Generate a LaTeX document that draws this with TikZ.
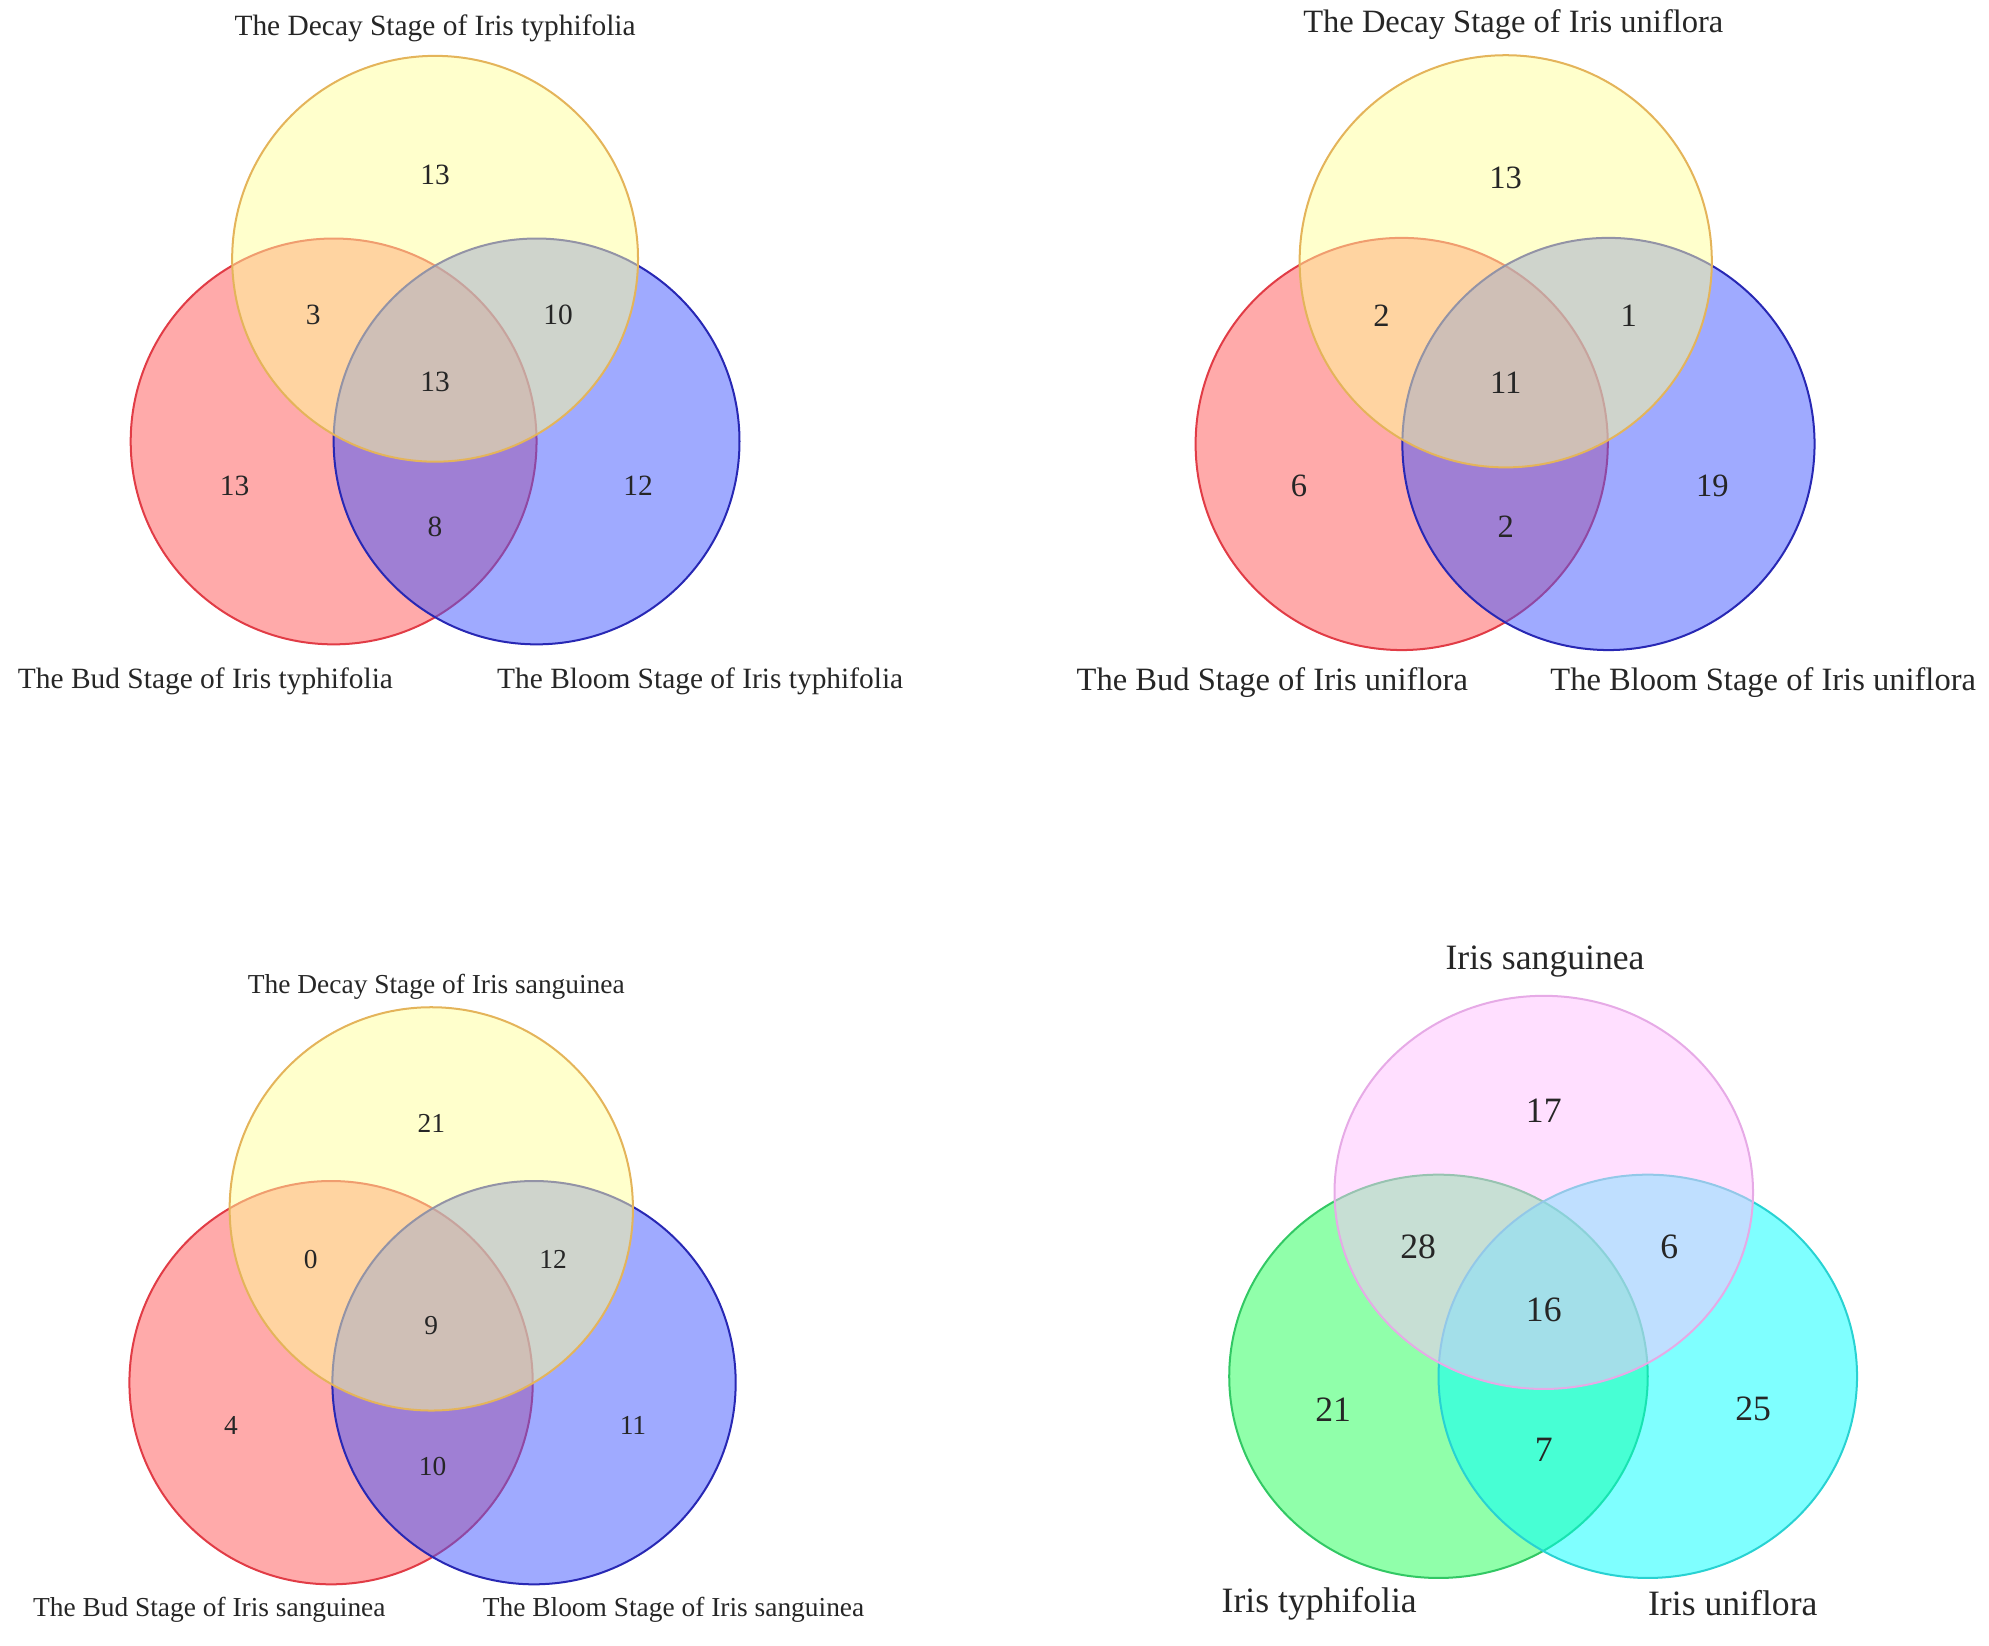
\documentclass[tikz,border=0pt]{standalone}
\usepackage{fontspec}
\setmainfont{Liberation Serif}
\usetikzlibrary{positioning}

\definecolor{budred}{RGB}{255,85,85}
\definecolor{budline}{RGB}{225,60,70}
\definecolor{bloomblue}{RGB}{64,85,255}
\definecolor{bloomline}{RGB}{40,40,180}
\definecolor{decayyellow}{RGB}{255,255,153}
\definecolor{decayline}{RGB}{228,180,90}
\definecolor{sangpink}{RGB}{255,192,255}
\definecolor{sangline}{RGB}{230,170,230}
\definecolor{typhgreen}{RGB}{33,255,85}
\definecolor{typhline}{RGB}{50,200,100}
\definecolor{unicyan}{RGB}{0,255,255}
\definecolor{uniline}{RGB}{40,210,210}

\begin{document}
\begin{tikzpicture}[x=0.02cm,y=-0.02cm,
  set/.style={fill opacity=0.5, line width=0.9pt},
  lab/.style={inner sep=0pt, text=black!85},
  num/.style={inner sep=0pt, text=black!85}]
\useasboundingbox (0,0) rectangle (1568,1297);

% Iris typhifolia, three stages
\begin{scope}[font=\fontsize{13.2}{15}\selectfont]
\filldraw[set, fill=budred, draw=budline] (263,348) circle (3.2cm);
\filldraw[set, fill=bloomblue, draw=bloomline] (423,348) circle (3.2cm);
\filldraw[set, fill=decayyellow, draw=decayline] (343,204) circle (3.2cm);
\node[lab] (tdecay) at (343,22) {The Decay Stage of Iris typhifolia};
\node[lab] (tbud) at (162,537) {The Bud Stage of Iris typhifolia};
\node[lab] (tbloom) at (552,537) {The Bloom Stage of Iris typhifolia};
\node[num] (t1) at (343,138) {13};
\node[num] (t2) at (247,248) {3};
\node[num] (t3) at (440,248) {10};
\node[num] (t4) at (343,301) {13};
\node[num] (t5) at (185,383) {13};
\node[num] (t6) at (503,383) {12};
\node[num] (t7) at (343,415) {8};
\end{scope}

% Iris uniflora, three stages
\begin{scope}[font=\fontsize{14.6}{17}\selectfont]
\filldraw[set, fill=budred, draw=budline] (1105,350) circle (3.25cm);
\filldraw[set, fill=bloomblue, draw=bloomline] (1268,350) circle (3.25cm);
\filldraw[set, fill=decayyellow, draw=decayline] (1187,206) circle (3.25cm);
\node[lab] (udecay) at (1193,19) {The Decay Stage of Iris uniflora};
\node[lab] (ubud) at (1003,538) {The Bud Stage of Iris uniflora};
\node[lab] (ubloom) at (1390,538) {The Bloom Stage of Iris uniflora};
\node[num] (u1) at (1187,140) {13};
\node[num] (u2) at (1089,249) {2};
\node[num] (u3) at (1284,249) {1};
\node[num] (u4) at (1187,302) {11};
\node[num] (u5) at (1024,383) {6};
\node[num] (u6) at (1350,383) {19};
\node[num] (u7) at (1187,415) {2};
\end{scope}

% Iris sanguinea, three stages
\begin{scope}[font=\fontsize{12.3}{14}\selectfont]
\filldraw[set, fill=budred, draw=budline] (261,1090) circle (3.18cm);
\filldraw[set, fill=bloomblue, draw=bloomline] (421,1090) circle (3.18cm);
\filldraw[set, fill=decayyellow, draw=decayline] (340,953) circle (3.18cm);
\node[lab] (sdecay) at (344,778) {The Decay Stage of Iris sanguinea};
\node[lab] (sbud) at (165,1269) {The Bud Stage of Iris sanguinea};
\node[lab] (sbloom) at (531,1269) {The Bloom Stage of Iris sanguinea};
\node[num] (s1) at (340,886) {21};
\node[num] (s2) at (245,993) {0};
\node[num] (s3) at (436,993) {12};
\node[num] (s4) at (340,1045) {9};
\node[num] (s5) at (182,1124) {4};
\node[num] (s6) at (499,1124) {11};
\node[num] (s7) at (341,1156) {10};
\end{scope}

% The three species
\begin{scope}[font=\fontsize{16}{19}\selectfont]
\filldraw[set, fill=typhgreen, draw=typhline] (1134,1085) ellipse (3.3cm and 3.18cm);
\filldraw[set, fill=unicyan, draw=uniline] (1299,1085) ellipse (3.3cm and 3.18cm);
\filldraw[set, fill=sangpink, draw=sangline] (1217,940) ellipse (3.3cm and 3.1cm);
\node[lab] (sang) at (1218,758) {Iris sanguinea};
\node[lab] (typh) at (1040,1264) {Iris typhifolia};
\node[lab] (uni) at (1366,1264) {Iris uniflora};
\node[num] (a1) at (1217,876) {17};
\node[num] (a2) at (1118,983) {28};
\node[num] (a3) at (1316,983) {6};
\node[num] (a4) at (1217,1033) {16};
\node[num] (a5) at (1051,1111) {21};
\node[num] (a6) at (1382,1111) {25};
\node[num] (a7) at (1217,1143) {7};
\end{scope}
\end{tikzpicture}
\end{document}
